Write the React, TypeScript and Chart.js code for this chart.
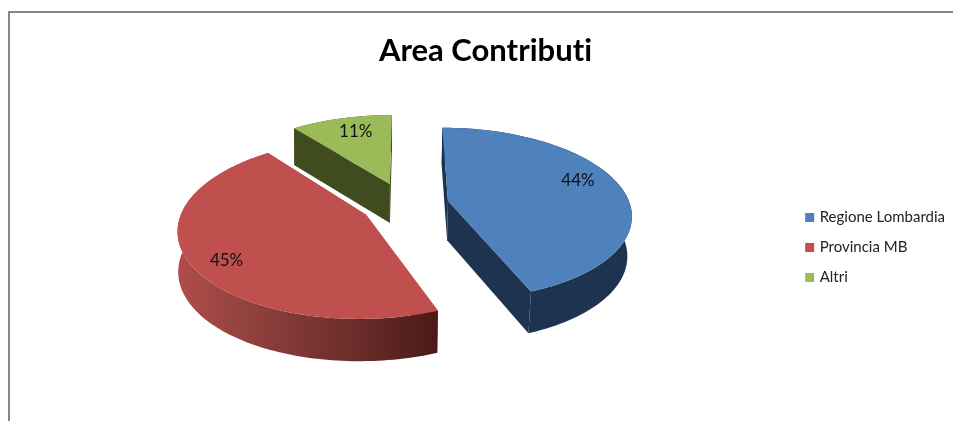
import React, { useEffect, useRef } from "react";
import { Chart, registerables } from "chart.js";

Chart.register(...registerables);

const categories = ["Regione Lombardia", "Provincia MB", "Altri"];
const values = [44.1, 45.3, 10.6];
const sliceColors = ["#4F81BD", "#C0504D", "#9BBB59"];
const wallColors = ["#1E334F", "#8A3C3A", "#404C20"];
const explode = [44, 44, 48];
const chartTitle = "Area Contributi";

const CX = 405;
const CY = 204.5;
const TILT = 85 / 182;
const PERSP = 0.15;
const BOTTOM_SCALE_RIGHT = 0.98;
const BOTTOM_SCALE_LEFT = 0.997;
const LABEL_RADIAL = 0.74;
const LABEL_NUDGE = [[2, -9], [-11, 11], [3, -2]];

const pie3d = {
  id: "pie3d",
  beforeDraw(chart: any) {
    chart.ctx.textRendering = "optimizeSpeed";
  },
  beforeDatasetDraw(chart: any) {
    const ctx = chart.ctx as CanvasRenderingContext2D;
    const arcs = chart.getDatasetMeta(0).data as any[];
    const total = values.reduce((a, b) => a + b, 0);
    const R = arcs[0].outerRadius;

    const project = (u: number, v: number, low: boolean) => {
      const w = 1 - PERSP * v;
      const x = (R * u) / w;
      const y = (R * TILT * v) / w;
      const s = x > 0 ? BOTTOM_SCALE_RIGHT : BOTTOM_SCALE_LEFT;
      return low ? [CX + x * s, CY + y + 39.5 + 2.5 * v] : [CX + x, CY + y];
    };
    const geom = arcs.map((arc) => {
      const mid = (arc.startAngle + arc.endAngle) / 2;
      const e = arc.options.offset / R;
      return { mid, ou: Math.cos(mid) * e, ov: Math.sin(mid) * e, start: arc.startAngle, end: arc.endAngle };
    });
    const rimPts = (g: any, low: boolean) => {
      const pts: number[][] = [];
      const n = 120;
      for (let k = 0; k <= n; k++) {
        const a = g.start + ((g.end - g.start) * k) / n;
        pts.push(project(g.ou + Math.cos(a), g.ov + Math.sin(a), low));
      }
      return pts;
    };
    const fillPoly = (pts: number[][], style: any) => {
      ctx.beginPath();
      pts.forEach((p, k) => (k ? ctx.lineTo(p[0], p[1]) : ctx.moveTo(p[0], p[1])));
      ctx.closePath();
      ctx.fillStyle = style;
      ctx.fill();
    };

    ctx.save();
    const order = [2, 1, 0];
    order.forEach((i) => {
      const g = geom[i];
      const top = rimPts(g, false);
      const low = rimPts(g, true);
      const apexT = project(g.ou, g.ov, false);
      const apexB = project(g.ou, g.ov, true);
      fillPoly([apexT, top[0], low[0], apexB], wallColors[i]);
      fillPoly([apexT, top[top.length - 1], low[low.length - 1], apexB], wallColors[i]);
      let style: any = wallColors[i];
      if (i === 1) {
        const grad = ctx.createLinearGradient(177, 0, 436, 0);
        grad.addColorStop(0, "#B04D4A");
        grad.addColorStop(0.3, "#8F403D");
        grad.addColorStop(0.65, "#6E2E2C");
        grad.addColorStop(1, "#4B1A18");
        style = grad;
      }
      fillPoly([...top, ...low.slice().reverse()], style);
    });
    order.forEach((i) => {
      fillPoly([project(geom[i].ou, geom[i].ov, false), ...rimPts(geom[i], false)], sliceColors[i]);
    });

    ctx.fillStyle = "#111111";
    ctx.font = "17px Lato";
    ctx.textAlign = "center";
    ctx.textBaseline = "middle";
    geom.forEach((g, i) => {
      const p = project(
        g.ou + Math.cos(g.mid) * LABEL_RADIAL,
        g.ov + Math.sin(g.mid) * LABEL_RADIAL,
        false
      );
      const pct = Math.round((values[i] / total) * 100);
      ctx.fillText(pct + "%", p[0] + LABEL_NUDGE[i][0], p[1] + LABEL_NUDGE[i][1]);
    });
    ctx.restore();
    return false;
  },
};

export default function App() {
  const ref = useRef<HTMLCanvasElement | null>(null);
  useEffect(() => {
    const chart = new Chart(ref.current as HTMLCanvasElement, {
      type: "pie",
      data: {
        labels: categories,
        datasets: [
          {
            data: values,
            backgroundColor: sliceColors,
            offset: explode,
            borderWidth: 0,
            radius: 182,
          } as any,
        ],
      },
      options: {
        responsive: false,
        animation: false,
        layout: { padding: { left: 16, right: -2, top: 32, bottom: -42 } },
        plugins: {
          title: {
            display: true,
            text: chartTitle,
            color: "#000000",
            font: { family: "Lato", size: 31, weight: "bold" },
            padding: { top: 0, bottom: 20 },
          },
          legend: {
            position: "right",
            labels: {
              boxWidth: 5,
              boxHeight: 5,
              padding: 15,
              color: "#222222",
              font: { family: "Lato", size: 15 },
              generateLabels: (c: any) =>
                (Chart as any).overrides.doughnut.plugins.legend.labels
                  .generateLabels(c)
                  .map((l: any) => ({ ...l, lineWidth: 4, strokeStyle: l.fillStyle })),
            },
          },
          tooltip: { enabled: false },
        },
      },
      plugins: [pie3d],
    } as any);
    return () => chart.destroy();
  }, []);
  return (
    <div style={{ position: "fixed", left: 0, top: 0, width: 953, height: 421, overflow: "hidden", background: "#fff" }}>
      <div style={{ position: "absolute", left: 8, top: 11, width: 945, height: 410, borderLeft: "2px solid #868686", borderTop: "2px solid #868686", boxSizing: "border-box" }} />
      <canvas ref={ref} width={953} height={421} style={{ position: "absolute", left: 0, top: 0 }} />
    </div>
  );
}
